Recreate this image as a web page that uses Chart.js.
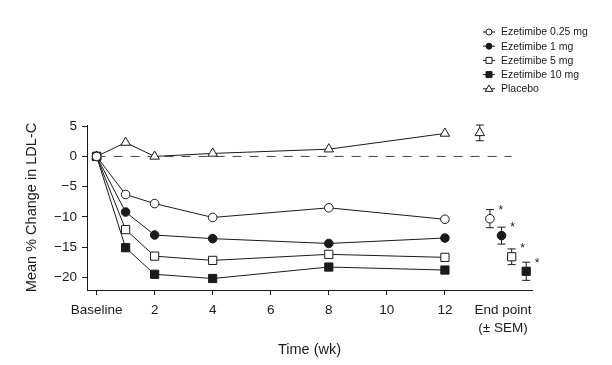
<!DOCTYPE html>
<html>
<head>
<meta charset="utf-8">
<script src="https://cdn.jsdelivr.net/npm/chart.js@4/dist/chart.umd.min.js"></script>
<style>
  html, body { margin: 0; padding: 0; background: #fff; }
  #wrap { width: 612px; height: 365px; position: relative; }
</style>
</head>
<body>
<div id="wrap"><canvas id="ldlChart"></canvas></div>
<script>
// weeks of treatment (baseline = week 0)
const weeks = [0, 1, 2, 4, 8, 12];

// mean % change in LDL-C for each group
const ez025 = [0, -6.3, -7.8, -10.1, -8.5, -10.4];
const ez1 = [0, -9.2, -13.0, -13.6, -14.4, -13.5];
const ez5 = [0, -12.1, -16.5, -17.2, -16.2, -16.7];
const ez10 = [0, -15.1, -19.5, -20.2, -18.3, -18.8];
const placebo = [0, 2.3, 0, 0.5, 1.2, 3.8];

// end point (± SEM), same order as the groups
const groupNames = ['Ezetimibe 0.25 mg', 'Ezetimibe 1 mg', 'Ezetimibe 5 mg', 'Ezetimibe 10 mg', 'Placebo'];
const endpointX = [13.55, 13.95, 14.3, 14.8, 13.2];
const endpointMean = [-10.3, -13.1, -16.6, -19.0, 3.9];
const endpointSem = [1.5, 1.4, 1.3, 1.5, 1.3];
const endpointStar = [true, true, true, true, false];

// axis ticks
const xTicks = [0, 2, 4, 6, 8, 10, 12, 14];
const yTicks = [-20, -15, -10, -5, 0, 5];

const FONT = "'Liberation Sans', Arial, Helvetica, sans-serif";
const INK = '#1a1a1a';

// marker look per group
const styles = [
    { pointStyle: 'circle', fill: '#fff', radius: 4.3 },
    { pointStyle: 'circle', fill: INK, radius: 4.3 },
    { pointStyle: 'rect', fill: '#fff', radius: 5.8 },
    { pointStyle: 'rect', fill: INK, radius: 5.8 },
    { pointStyle: 'triangle', fill: '#fff', radius: 5.5 }
];
const series = [ez025, ez1, ez5, ez10, placebo];

const datasets = [];
// time-course lines
series.forEach((vals, i) => {
    datasets.push({
        label: groupNames[i],
        data: weeks.map((w, j) => ({ x: w, y: vals[j] })),
        borderColor: INK,
        borderWidth: 1,
        pointStyle: styles[i].pointStyle,
        pointRadius: styles[i].radius,
        pointBackgroundColor: styles[i].fill,
        pointBorderColor: INK,
        pointBorderWidth: 1,
        showLine: true,
        order: 1
    });
});
// end point markers
series.forEach((vals, i) => {
    datasets.push({
        label: groupNames[i] + ' end point',
        data: [{ x: endpointX[i], y: endpointMean[i] }],
        borderColor: INK,
        pointStyle: styles[i].pointStyle,
        pointRadius: styles[i].radius,
        pointBackgroundColor: styles[i].fill,
        pointBorderColor: INK,
        pointBorderWidth: 1,
        showLine: false,
        order: 1
    });
});
// zero reference line
datasets.push({
    label: 'zero',
    data: [{ x: 0, y: 0 }, { x: 14.3, y: 0 }],
    borderColor: '#444',
    borderWidth: 1,
    borderDash: [9, 8],
    pointRadius: 0,
    showLine: true,
    order: 5
});

// draws error bars, asterisks and the legend
const extrasPlugin = {
    id: 'extras',
    beforeDatasetsDraw(chart) {
        const ctx = chart.ctx;
        const xs = chart.scales.x, ys = chart.scales.y;
        ctx.save();
        ctx.strokeStyle = INK;
        ctx.lineWidth = 1;
        for (let i = 0; i < endpointX.length; i++) {
            const px = xs.getPixelForValue(endpointX[i]);
            const top = ys.getPixelForValue(endpointMean[i] + endpointSem[i]);
            const bot = ys.getPixelForValue(endpointMean[i] - endpointSem[i]);
            ctx.beginPath();
            ctx.moveTo(px, top); ctx.lineTo(px, bot);
            ctx.moveTo(px - 4, top); ctx.lineTo(px + 4, top);
            ctx.moveTo(px - 4, bot); ctx.lineTo(px + 4, bot);
            ctx.stroke();
        }
        ctx.restore();
    },
    afterDatasetsDraw(chart) {
        const ctx = chart.ctx;
        const xs = chart.scales.x, ys = chart.scales.y;
        ctx.save();
        ctx.fillStyle = INK;
        ctx.font = '12px ' + FONT;
        ctx.textAlign = 'center';
        ctx.textBaseline = 'middle';
        for (let i = 0; i < endpointX.length; i++) {
            if (!endpointStar[i]) continue;
            const px = xs.getPixelForValue(endpointX[i]);
            const py = ys.getPixelForValue(endpointMean[i]);
            ctx.fillText('*', px + 11, py - 8);
        }

        // legend, top right
        const lx = 489, ly0 = 32, step = 14.2;
        ctx.font = '10.5px ' + FONT;
        ctx.textAlign = 'left';
        for (let i = 0; i < groupNames.length; i++) {
            const y = ly0 + i * step;
            ctx.strokeStyle = INK;
            ctx.lineWidth = 1;
            ctx.beginPath();
            ctx.moveTo(lx - 6, y); ctx.lineTo(lx + 6, y);
            ctx.stroke();
            ctx.fillStyle = styles[i].fill;
            ctx.beginPath();
            if (styles[i].pointStyle === 'circle') {
                ctx.arc(lx, y, 3, 0, Math.PI * 2);
            } else if (styles[i].pointStyle === 'rect') {
                ctx.rect(lx - 3, y - 3, 6, 6);
            } else {
                ctx.moveTo(lx, y - 3.8);
                ctx.lineTo(lx + 3.8, y + 2.6);
                ctx.lineTo(lx - 3.8, y + 2.6);
                ctx.closePath();
            }
            ctx.fill();
            ctx.stroke();
            ctx.fillStyle = INK;
            ctx.fillText(groupNames[i], lx + 12, y + 0.5);
        }
        ctx.restore();
    }
};

const ctx = document.getElementById('ldlChart').getContext('2d');
new Chart(ctx, {
    type: 'scatter',
    data: { datasets: datasets },
    plugins: [extrasPlugin],
    options: {
        responsive: true,
        maintainAspectRatio: false,
        animation: false,
        layout: { padding: { top: 125, right: 80, left: 23, bottom: 0 } },
        plugins: {
            legend: { display: false },
            tooltip: { enabled: false }
        },
        scales: {
            x: {
                type: 'linear',
                min: -0.33,
                max: 15,
                afterBuildTicks: (s) => { s.ticks = xTicks.map(v => ({ value: v })); },
                afterFit: (s) => { s.height = 75; },
                border: { color: INK, width: 1 },
                grid: {
                    drawOnChartArea: false,
                    drawTicks: true,
                    tickLength: 5,
                    tickColor: (c) => (c.tick && c.tick.value === 14 ? 'rgba(0,0,0,0)' : INK)
                },
                ticks: {
                    color: INK,
                    font: { family: FONT, size: 13.5, lineHeight: 1.3 },
                    padding: 7,
                    maxRotation: 0,
                    autoSkip: false,
                    callback: (v) => {
                        if (v === 0) return 'Baseline';
                        if (v === 14) return ['End point', '(± SEM)'];
                        return String(v);
                    }
                },
                title: {
                    display: true,
                    text: 'Time (wk)',
                    color: INK,
                    font: { family: FONT, size: 14.5 },
                    padding: { top: 6, bottom: 6 }
                }
            },
            y: {
                type: 'linear',
                min: -22.1,
                max: 5.2,
                afterBuildTicks: (s) => { s.ticks = yTicks.map(v => ({ value: v })); },
                afterFit: (s) => { s.width = 64; },
                border: { color: INK, width: 1 },
                grid: {
                    drawOnChartArea: false,
                    drawTicks: true,
                    tickLength: 5,
                    tickColor: INK
                },
                ticks: {
                    color: INK,
                    font: { family: FONT, size: 13.5 },
                    padding: 5,
                    callback: (v) => (v < 0 ? '\u2212' + Math.abs(v) : String(v))
                },
                title: {
                    display: true,
                    text: 'Mean % Change in LDL-C',
                    color: INK,
                    font: { family: FONT, size: 14.5 },
                    padding: { top: 0, bottom: 4 }
                }
            }
        }
    }
});
</script>
</body>
</html>
